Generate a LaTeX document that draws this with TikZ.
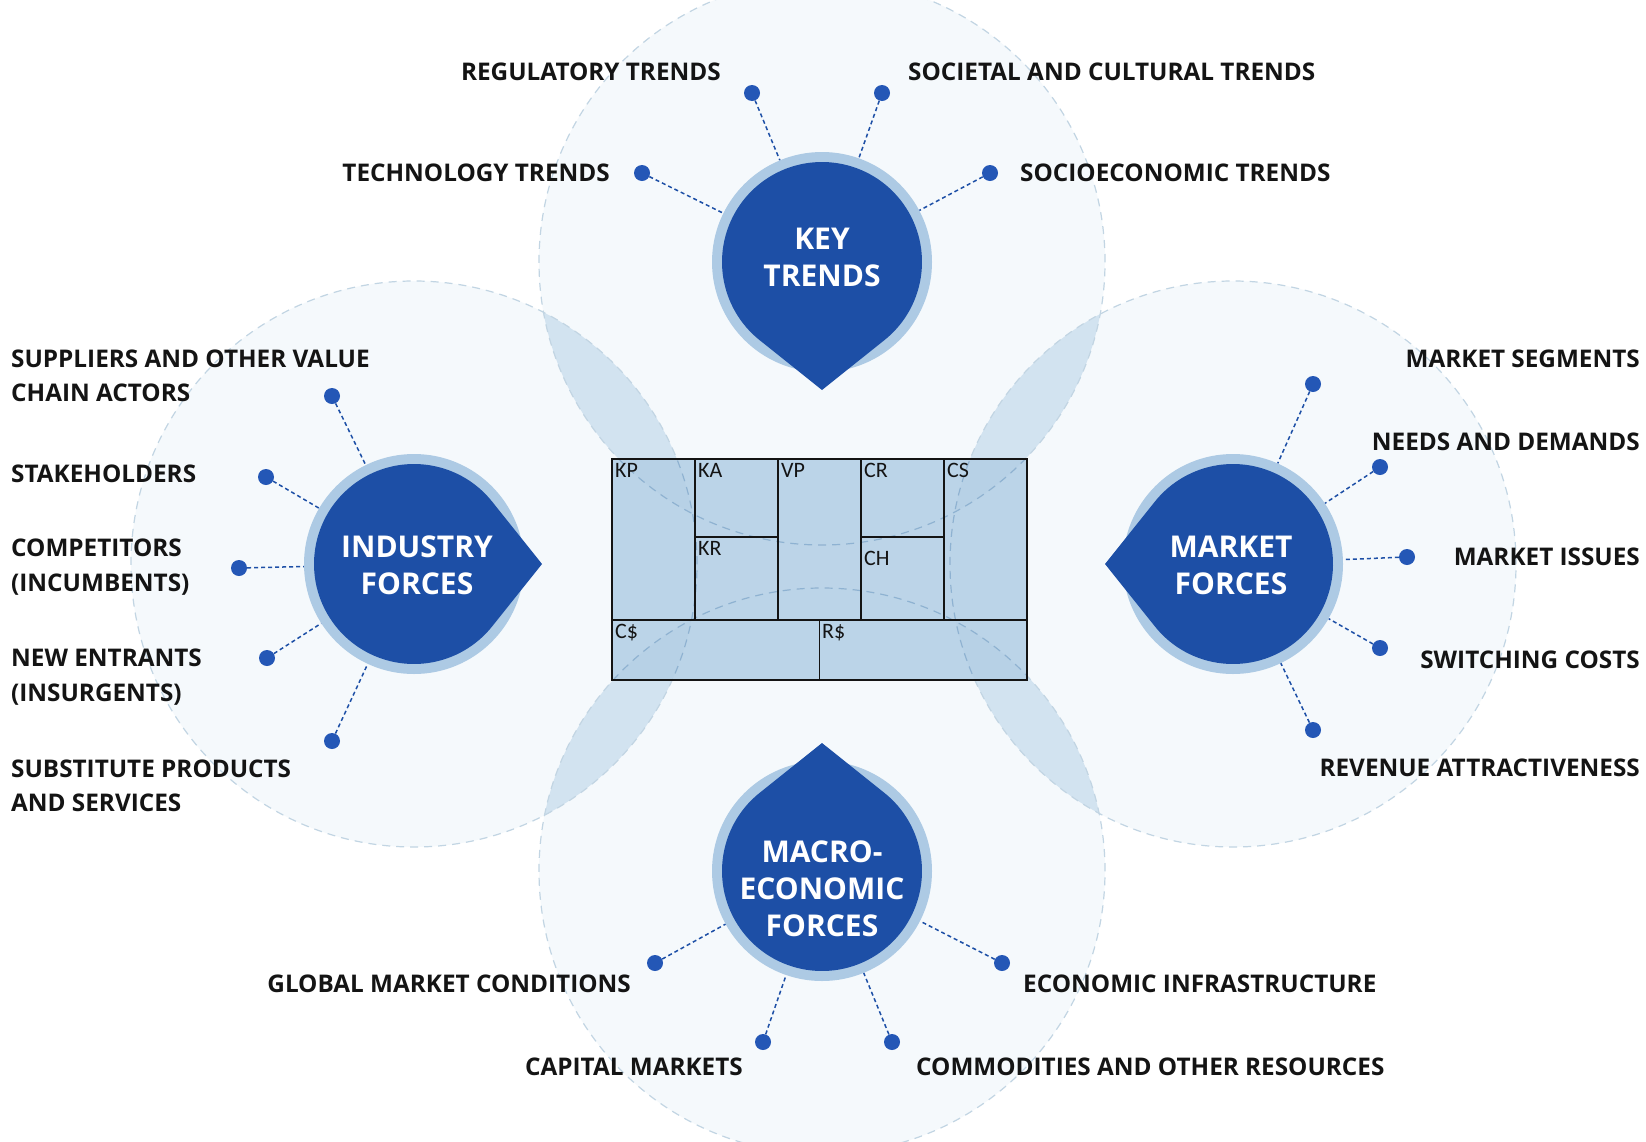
\documentclass[tikz,border=0pt]{standalone}
\usepackage{fontspec}
\setmainfont{Open Sans}
\newfontfamily\cellfont{Carlito}
\usepackage{tikz}
\usetikzlibrary{calc}
\definecolor{ink}{HTML}{141414}
\definecolor{deep}{HTML}{1D4FA6}
\definecolor{halo}{HTML}{ADCAE4}
\definecolor{pin}{HTML}{2457B6}
\definecolor{sheet}{HTML}{B5D0E6}
\definecolor{ringfill}{HTML}{F5F9FC}
\definecolor{lensfill}{HTML}{D2E3F0}
\definecolor{ringline}{HTML}{C2D5E3}
\definecolor{ringdark}{HTML}{8EB2D2}
\tikzset{
  ring/.style={draw=ringline, line width=1.2pt, dash pattern=on 8pt off 6pt},
  grid/.style={draw=ink, line width=1.3pt},
  cell/.style={font=\cellfont\fontsize{22}{24}\selectfont, text=ink, anchor=north west, inner sep=0pt},
  hub/.style={circle, minimum size=220pt, inner sep=0pt},
  hubtxt/.style={text=white, font=\bfseries\fontsize{30}{37}\selectfont, align=center},
  lbl/.style={text=ink, font=\bfseries\fontsize{24.3}{34.5}\selectfont, align=left, inner sep=0pt},
  dot/.style={circle, fill=pin, minimum size=16pt, inner sep=0pt},
  link/.style={draw=deep, line width=1.5pt, dash pattern=on 4pt off 3pt}
}
% drop: centre, direction of the tip
\newcommand\dropat[2]{%
  \fill[halo] (#1) circle (110);
  \fill[deep] ($(#1)+({#2+38.6}:100)$) arc[start angle={#2+38.6}, end angle={#2+321.4}, radius=100]
    -- ($(#1)+(#2:128)$) -- cycle;
}

\begin{document}
\begin{tikzpicture}[x=1pt, y=1pt]
\useasboundingbox (0,0) rectangle (1646,-1141);
\fill[white] (0,0) rectangle (1646,-1141);

\coordinate (ktc) at (822,-262);
\coordinate (ifc) at (414,-564);
\coordinate (mfc) at (1233,-564);
\coordinate (mec) at (822,-871);

% rings behind
\foreach \c in {ktc,ifc,mfc,mec}
  \fill[ringfill] (\c) circle (283);
\begin{scope}
  \clip (ktc) circle (283);
  \fill[lensfill] (ifc) circle (283);
  \fill[lensfill] (mfc) circle (283);
\end{scope}
\begin{scope}
  \clip (mec) circle (283);
  \fill[lensfill] (ifc) circle (283);
  \fill[lensfill] (mfc) circle (283);
\end{scope}

% canvas
\fill[sheet, fill opacity=0.9] (612,-459) rectangle (1027,-680);
\foreach \c in {ktc,ifc,mfc,mec}
  \draw[ring] (\c) circle (283);
\begin{scope}
  \clip (612,-459) rectangle (1027,-680);
  \foreach \c in {ktc,ifc,mfc,mec}
    \draw[ring, draw=ringdark] (\c) circle (283);
\end{scope}
\draw[grid] (612,-459) rectangle (1027,-680);
\draw[grid] (612,-620) -- (1027,-620);
\draw[grid] (695,-459) -- (695,-620);
\draw[grid] (778,-459) -- (778,-620);
\draw[grid] (861,-459) -- (861,-620);
\draw[grid] (944,-459) -- (944,-620);
\draw[grid] (695,-537) -- (778,-537);
\draw[grid] (861,-537) -- (944,-537);
\draw[grid] (819.5,-620) -- (819.5,-680);
\node[cell] (kp) at (615,-463) {KP};
\node[cell] (ka) at (698,-463) {KA};
\node[cell] (kr) at (698,-541) {KR};
\node[cell] (vp) at (781,-463) {VP};
\node[cell] (cr) at (864,-463) {CR};
\node[cell] (ch) at (864,-551) {CH};
\node[cell] (cs) at (947,-463) {CS};
\node[cell] (cc) at (615,-624) {C\$};
\node[cell] (rr) at (822,-624) {R\$};

% drops
\dropat{ktc}{-90}
\dropat{ifc}{0}
\dropat{mfc}{180}
\dropat{mec}{90}
\node[hub] (kt) at (ktc) {};
\node[hub] (if) at (ifc) {};
\node[hub] (mf) at (mfc) {};
\node[hub] (me) at (mec) {};
\node[hubtxt] (kttxt) at (822,-257) {KEY\\TRENDS};
\node[hubtxt] (iftxt) at (417,-565) {INDUSTRY\\FORCES};
\node[hubtxt] (mftxt) at (1231,-565) {MARKET\\FORCES};
\node[hubtxt] (metxt) at (822,-889) {MACRO-\\ECONOMIC\\FORCES};

% key trends
\node[dot] (dreg) at (752,-93) {};
\node[dot] (dsoc) at (882,-93) {};
\node[dot] (dtec) at (642,-173) {};
\node[dot] (dsec) at (990,-173) {};
\draw[link] (dreg) -- (kt);
\draw[link] (dsoc) -- (kt);
\draw[link] (dtec) -- (kt);
\draw[link] (dsec) -- (kt);
\node[lbl, anchor=east] (lreg) at (721,-72) {REGULATORY TRENDS};
\node[lbl, anchor=west] (lsoc) at (908,-72) {SOCIETAL AND CULTURAL TRENDS};
\node[lbl, anchor=east] (ltec) at (610,-173) {TECHNOLOGY TRENDS};
\node[lbl, anchor=west] (lsec) at (1020,-173) {SOCIOECONOMIC TRENDS};

% industry forces
\node[dot] (dsup) at (332,-396) {};
\node[dot] (dsta) at (266,-477) {};
\node[dot] (dcom) at (239,-568) {};
\node[dot] (dnew) at (267,-658) {};
\node[dot] (dsub) at (332,-741) {};
\draw[link] (dsup) -- (if);
\draw[link] (dsta) -- (if);
\draw[link] (dcom) -- (if);
\draw[link] (dnew) -- (if);
\draw[link] (dsub) -- (if);
\node[lbl, anchor=west] (lsup) at (11,-376) {SUPPLIERS AND OTHER VALUE\\CHAIN ACTORS};
\node[lbl, anchor=west] (lsta) at (11,-474) {STAKEHOLDERS};
\node[lbl, anchor=west] (lcom) at (11,-567) {COMPETITORS\\(INCUMBENTS)};
\node[lbl, anchor=west] (lnew) at (11,-677) {NEW ENTRANTS\\(INSURGENTS)};
\node[lbl, anchor=west] (lsub) at (11,-786) {SUBSTITUTE PRODUCTS\\AND SERVICES};

% market forces
\node[dot] (dseg) at (1313,-384) {};
\node[dot] (dnee) at (1380,-467) {};
\node[dot] (diss) at (1407,-557) {};
\node[dot] (dswi) at (1380,-648) {};
\node[dot] (drev) at (1313,-730) {};
\draw[link] (dseg) -- (mf);
\draw[link] (dnee) -- (mf);
\draw[link] (diss) -- (mf);
\draw[link] (dswi) -- (mf);
\draw[link] (drev) -- (mf);
\node[lbl, anchor=east] (lseg) at (1640,-359) {MARKET SEGMENTS};
\node[lbl, anchor=east] (lnee) at (1640,-442) {NEEDS AND DEMANDS};
\node[lbl, anchor=east] (liss) at (1640,-557) {MARKET ISSUES};
\node[lbl, anchor=east] (lswi) at (1640,-660) {SWITCHING COSTS};
\node[lbl, anchor=east] (lrev) at (1640,-768) {REVENUE ATTRACTIVENESS};

% macro-economic forces
\node[dot] (dglo) at (655,-963) {};
\node[dot] (deco) at (1002,-963) {};
\node[dot] (dcap) at (763,-1042) {};
\node[dot] (dcmd) at (892,-1042) {};
\draw[link] (dglo) -- (me);
\draw[link] (deco) -- (me);
\draw[link] (dcap) -- (me);
\draw[link] (dcmd) -- (me);
\node[lbl, anchor=east] (lglo) at (631,-984) {GLOBAL MARKET CONDITIONS};
\node[lbl, anchor=west] (leco) at (1023,-984) {ECONOMIC INFRASTRUCTURE};
\node[lbl, anchor=east] (lcap) at (743,-1067) {CAPITAL MARKETS};
\node[lbl, anchor=west] (lcmd) at (916,-1067) {COMMODITIES AND OTHER RESOURCES};
\end{tikzpicture}
\end{document}
